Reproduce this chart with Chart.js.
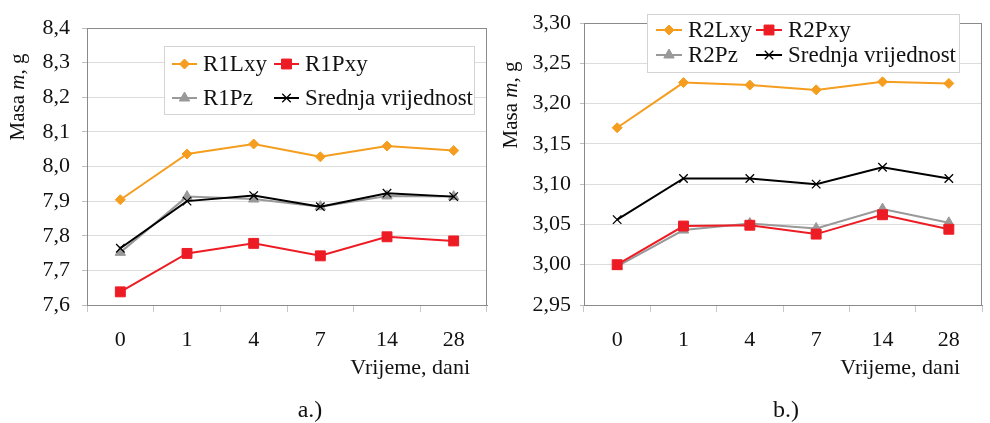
<!DOCTYPE html>
<html>
<head>
<meta charset="utf-8">
<script src="https://cdn.jsdelivr.net/npm/chart.js@4/dist/chart.umd.min.js"></script>
<style>
  body { margin: 0; background: #fff; }
  #wrap { position: relative; width: 990px; height: 423px; }
  canvas { position: absolute; top: 0; }
  #chartA { left: 0; }
  #chartB { left: 495px; }
</style>
</head>
<body>
<div id="wrap">
  <canvas id="chartA" width="495" height="423"></canvas>
  <canvas id="chartB" width="495" height="423"></canvas>
</div>
<script>
// dani mjerenja
const days = ['0', '1', '4', '7', '14', '28'];

// a.) uzorci R1
const r1Lxy  = [7.904, 8.036, 8.065, 8.028, 8.059, 8.046];
const r1Pxy  = [7.638, 7.749, 7.778, 7.742, 7.797, 7.785];
const r1Pz   = [7.752, 7.913, 7.906, 7.884, 7.915, 7.913];
const r1Mean = [7.764, 7.900, 7.916, 7.884, 7.923, 7.913];

// b.) uzorci R2
const r2Lxy  = [3.170, 3.226, 3.223, 3.217, 3.227, 3.225];
const r2Pxy  = [3.000, 3.048, 3.049, 3.038, 3.062, 3.044];
const r2Pz   = [2.998, 3.043, 3.051, 3.045, 3.069, 3.052];
const r2Mean = [3.056, 3.107, 3.107, 3.100, 3.121, 3.107];

// raspon osi y
const yRangeA = [7.6, 8.4, 0.1];
const yRangeB = [2.95, 3.30, 0.05];

const FONT = "'Liberation Serif', 'Times New Roman', serif";
Chart.defaults.font.family = FONT;
Chart.defaults.font.size = 22;
Chart.defaults.color = '#111';

const ORANGE = '#F59D1E';
const RED = '#ED1C24';
const GRAY = '#999999';
const BLACK = '#000000';

function series(label, data, color, style, radius, order) {
  return {
    label: label,
    data: data,
    borderColor: color,
    backgroundColor: color,
    borderWidth: 2,
    pointStyle: style,
    pointRadius: radius,
    pointBorderWidth: style === 'crossRot' ? 1.3 : 1,
    pointBackgroundColor: color,
    pointBorderColor: color,
    order: order,
    tension: 0
  };
}

// legenda, naslovi osi i oznaka slike
const decorPlugin = {
  id: 'decor',
  beforeDatasetsDraw(chart) {
    const a = chart.chartArea;
    const ctx = chart.ctx;
    ctx.save();
    ctx.strokeStyle = '#8a8a8a';
    ctx.lineWidth = 1;
    ctx.strokeRect(Math.round(a.left) + 0.5, Math.round(a.top) + 0.5,
      Math.round(a.right - a.left) - 1, Math.round(a.bottom - a.top));
    ctx.restore();
  },
  afterDraw(chart, args, opts) {
    const ctx = chart.ctx;
    const a = chart.chartArea;
    ctx.save();

    // legenda
    const lg = opts.legend;
    ctx.fillStyle = '#fff';
    ctx.fillRect(lg.box[0], lg.box[1], lg.box[2] - lg.box[0], lg.box[3] - lg.box[1]);
    ctx.strokeStyle = '#d4d4d4';
    ctx.lineWidth = 1;
    ctx.strokeRect(lg.box[0] + 0.5, lg.box[1] + 0.5, lg.box[2] - lg.box[0], lg.box[3] - lg.box[1]);
    chart.data.datasets.forEach((ds, i) => {
      const it = lg.items[i];
      ctx.strokeStyle = ds.borderColor;
      ctx.fillStyle = ds.borderColor;
      ctx.lineWidth = 2;
      ctx.beginPath();
      ctx.moveTo(it[0], it[2]);
      ctx.lineTo(it[1], it[2]);
      ctx.stroke();
      ctx.lineWidth = ds.pointBorderWidth;
      Chart.helpers.drawPoint(ctx, {
        pointStyle: ds.pointStyle,
        radius: ds.pointRadius,
        borderWidth: ds.pointBorderWidth,
        rotation: 0
      }, (it[0] + it[1]) / 2, it[2]);
      ctx.fillStyle = '#111';
      ctx.font = '23px ' + FONT;
      ctx.textBaseline = 'middle';
      ctx.textAlign = 'left';
      ctx.fillText(ds.label, it[1] + 6, it[2] + 1);
    });

    // naslov osi y: Masa m, g
    ctx.fillStyle = '#111';
    ctx.translate(opts.yTitle[0], opts.yTitle[1]);
    ctx.rotate(-Math.PI / 2);
    ctx.textBaseline = 'middle';
    const parts = [['Masa ', 'normal'], ['m', 'italic'], [', g', 'normal']];
    let total = 0;
    parts.forEach(p => { ctx.font = p[1] + ' 21px ' + FONT; total += ctx.measureText(p[0]).width; });
    let x = -total / 2;
    ctx.textAlign = 'left';
    parts.forEach(p => {
      ctx.font = p[1] + ' 21px ' + FONT;
      ctx.fillText(p[0], x, 0);
      x += ctx.measureText(p[0]).width;
    });
    ctx.setTransform(1, 0, 0, 1, 0, 0);

    // naslov osi x
    ctx.font = '22px ' + FONT;
    ctx.textAlign = 'right';
    ctx.textBaseline = 'middle';
    ctx.fillText('Vrijeme, dani', a.right - opts.xTitleRight, 368);

    // oznaka slike
    ctx.font = '24px ' + FONT;
    ctx.textAlign = 'center';
    ctx.fillText(opts.caption, opts.captionX, 411);
    ctx.restore();
  }
};

function makeChart(id, datasets, range, decimals, geom, decor) {
  const ctx = document.getElementById(id).getContext('2d');
  return new Chart(ctx, {
    type: 'line',
    data: { labels: days, datasets: datasets },
    options: {
      responsive: false,
      animation: false,
      layout: { padding: { top: geom.top, right: geom.right, left: 0, bottom: 0 } },
      plugins: { legend: { display: false }, tooltip: { enabled: false }, decor: decor },
      scales: {
        x: {
          offset: true,
          grid: { offset: true, drawOnChartArea: false, drawTicks: true, tickLength: 7, color: '#c8c8c8' },
          border: { color: '#8a8a8a' },
          ticks: { padding: 15, maxRotation: 0 },
          afterFit(scale) { scale.height = 423 - 305; }
        },
        y: {
          min: range[0],
          max: range[1],
          grid: { color: '#dcdcdc', tickLength: geom.tick, tickColor: '#bdbdbd' },
          border: { color: '#8a8a8a' },
          ticks: {
            stepSize: range[2],
            padding: geom.pad,
            callback: v => v.toFixed(decimals).replace('.', ',')
          },
          afterFit(scale) { scale.width = geom.yWidth; }
        }
      }
    },
    plugins: [decorPlugin]
  });
}

// a.)
makeChart('chartA', [
  series('R1Lxy', r1Lxy, ORANGE, 'rectRot', 5, 3),
  series('R1Pxy', r1Pxy, RED, 'rect', 7, 1),
  series('R1Pz', r1Pz, GRAY, 'triangle', 6, 2),
  series('Srednja vrijednost', r1Mean, BLACK, 'crossRot', 6, 0)
], yRangeA, 1, { top: 28, right: 8, yWidth: 87, tick: 5, pad: 12 }, {
  legend: {
    box: [164, 46, 474, 114],
    items: [[172, 197, 64], [274, 299, 64], [172, 197, 98], [274, 299, 98]]
  },
  yTitle: [18, 97],
  xTitleRight: 17,
  caption: 'a.)',
  captionX: 310
});

// b.)
makeChart('chartB', [
  series('R2Lxy', r2Lxy, ORANGE, 'rectRot', 5, 3),
  series('R2Pxy', r2Pxy, RED, 'rect', 7, 1),
  series('R2Pz', r2Pz, GRAY, 'triangle', 6, 2),
  series('Srednja vrijednost', r2Mean, BLACK, 'crossRot', 6, 0)
], yRangeB, 2, { top: 23, right: 1, yWidth: 89, tick: 4, pad: 9 }, {
  legend: {
    box: [152, 14, 464, 72],
    items: [[161, 187, 30], [261, 287, 30], [161, 187, 55], [261, 287, 55]]
  },
  yTitle: [16, 105],
  xTitleRight: 22,
  caption: 'b.)',
  captionX: 291
});
</script>
</body>
</html>
